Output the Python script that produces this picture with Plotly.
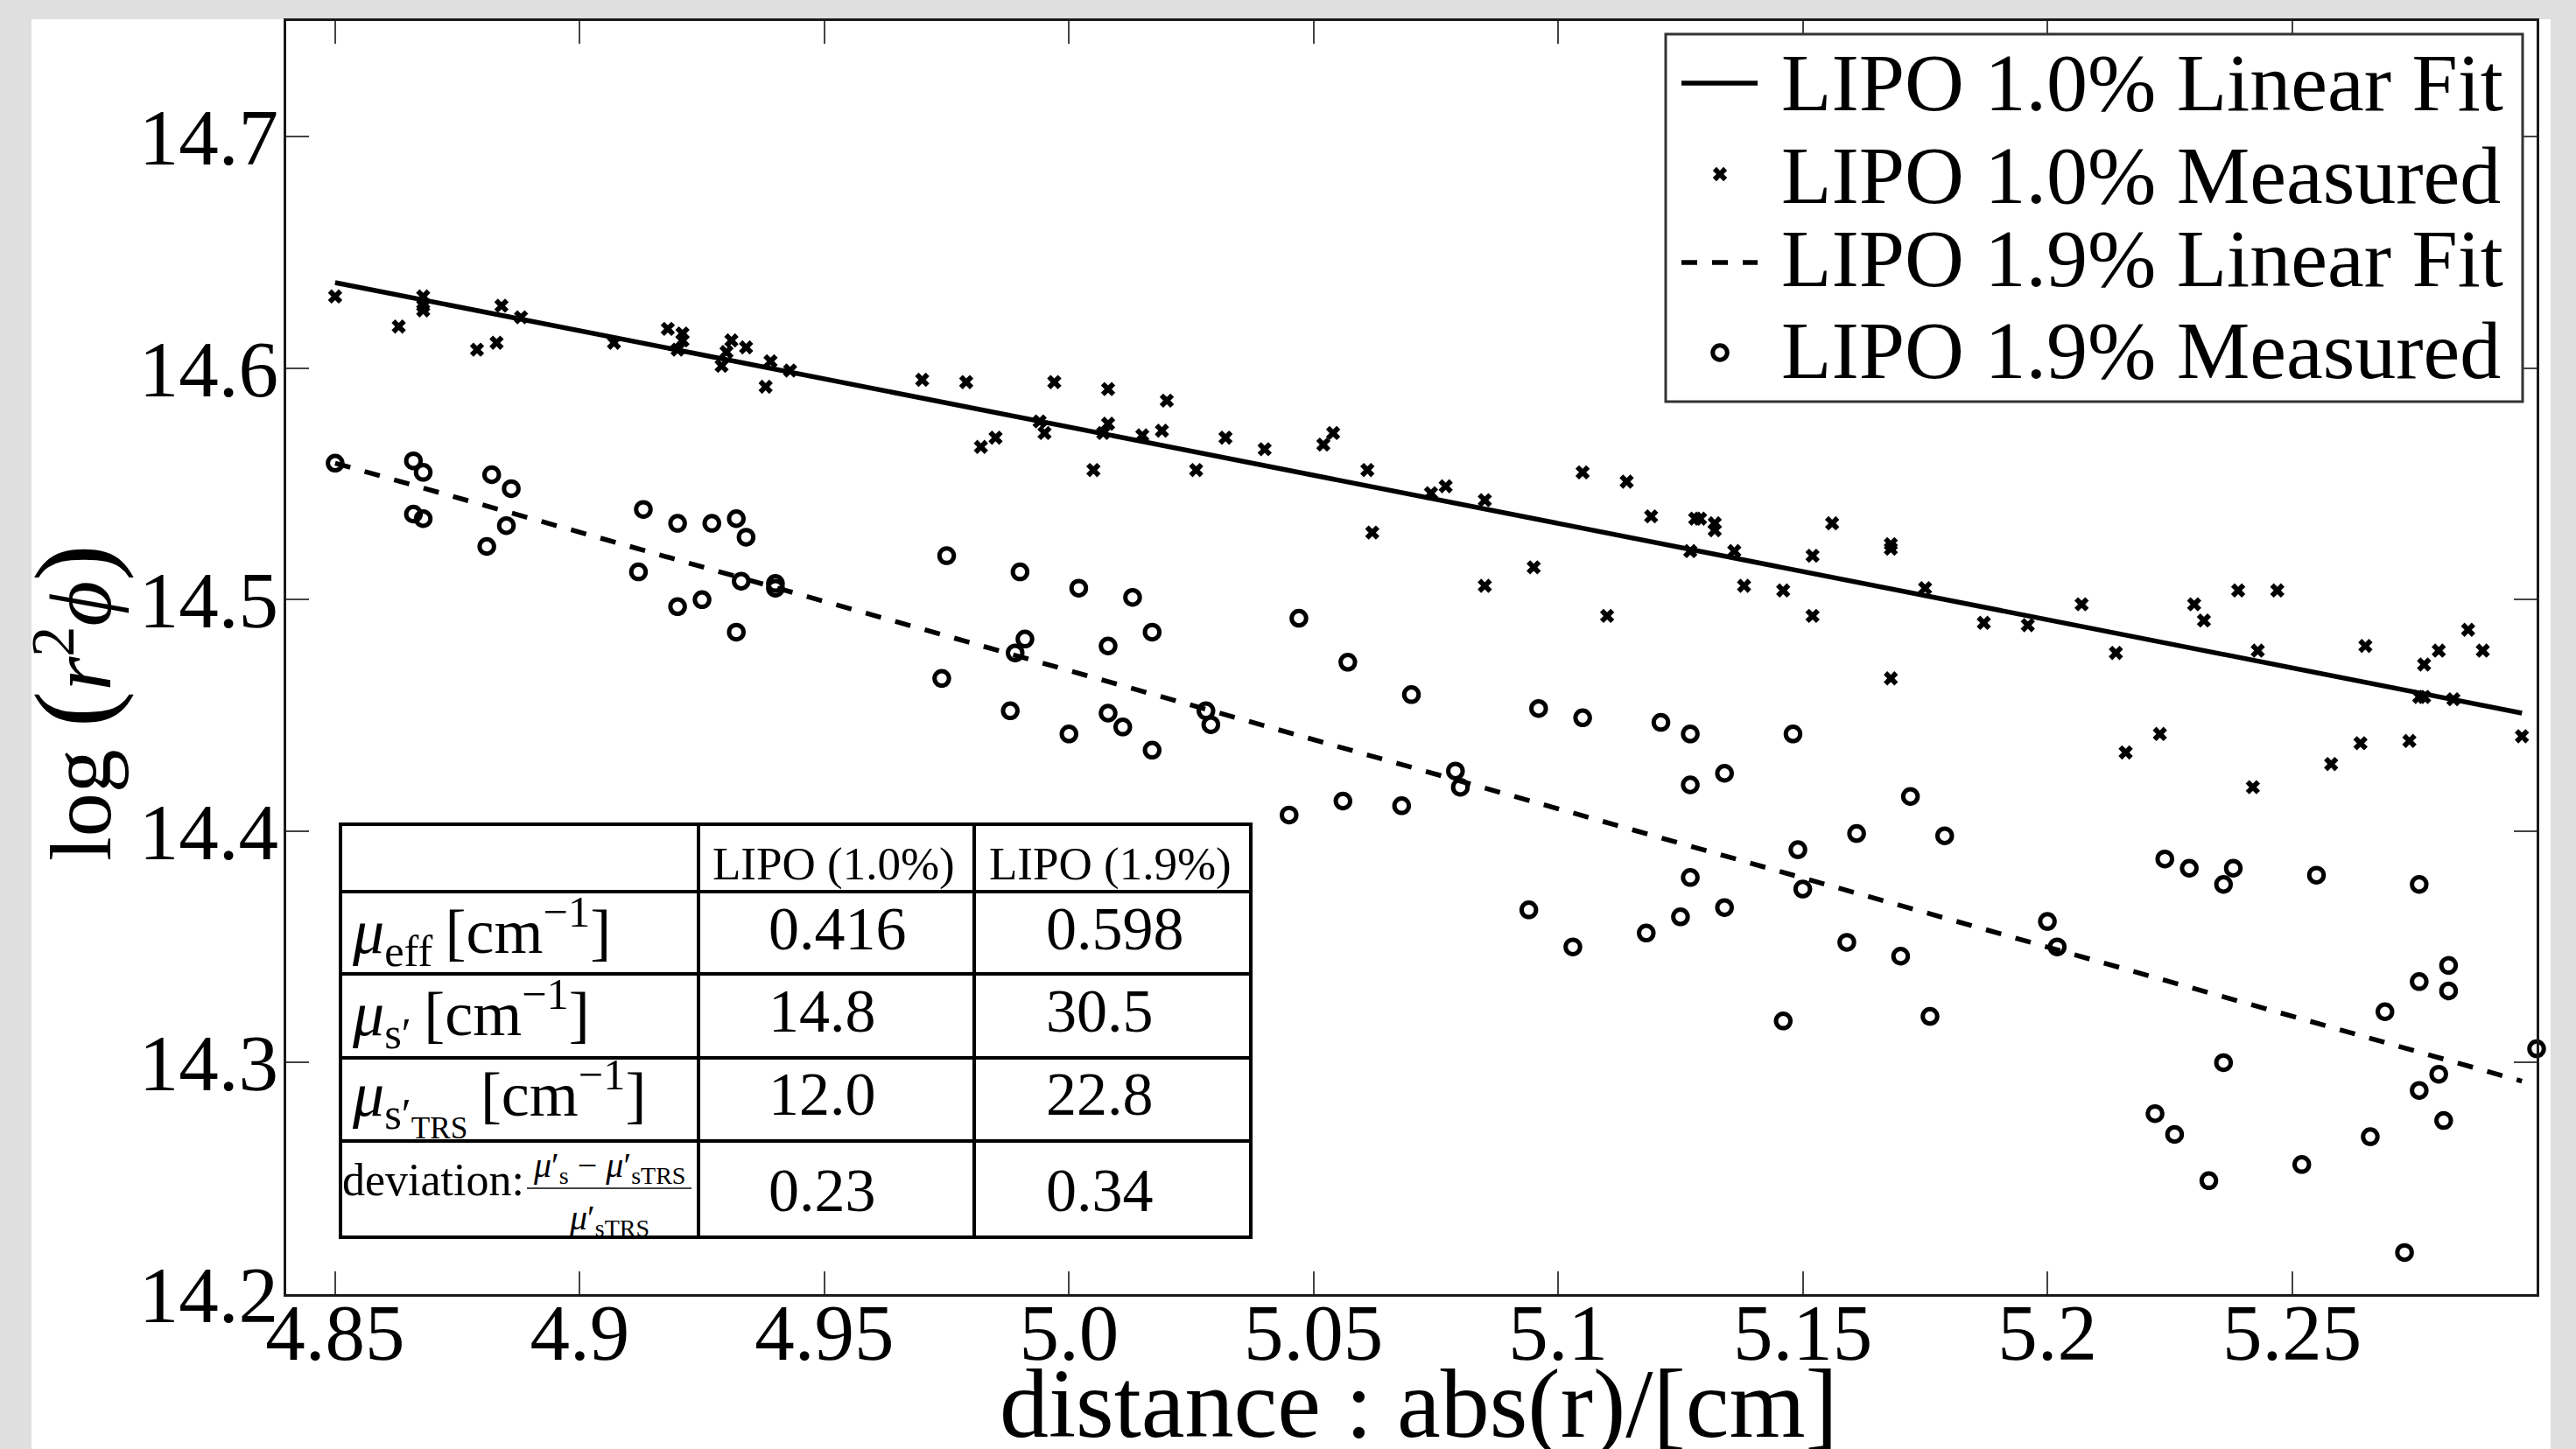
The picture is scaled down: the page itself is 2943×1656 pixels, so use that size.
import plotly.graph_objects as go

# ---------------- data ----------------
x_range = [4.84, 5.30]
y_range = [14.2, 14.75]
x_tickvals = [4.85, 4.90, 4.95, 5.00, 5.05, 5.10, 5.15, 5.20, 5.25]
x_ticktext = ["4.85", "4.9", "4.95", "5.0", "5.05", "5.1", "5.15", "5.2", "5.25"]
y_tickvals = [14.2, 14.3, 14.4, 14.5, 14.6, 14.7]
y_ticktext = ["14.2", "14.3", "14.4", "14.5", "14.6", "14.7"]

series_names = ["LIPO 1.0% Linear Fit", "LIPO 1.0% Measured",
                "LIPO 1.9% Linear Fit", "LIPO 1.9% Measured"]

lipo10_x = [4.850, 4.863, 4.868, 4.868, 4.868, 4.879, 4.883, 4.884, 4.888, 4.907,
            4.918, 4.921, 4.921, 4.920, 4.929, 4.930, 4.931, 4.934, 4.938, 4.939,
            4.943, 4.970, 4.979, 4.982, 4.985, 4.994, 4.995, 4.997, 5.005, 5.007,
            5.008, 5.008, 5.015, 5.019, 5.020, 5.026, 5.032, 5.040, 5.052, 5.054,
            5.061, 5.062, 5.074, 5.077, 5.085, 5.085, 5.095, 5.105, 5.110, 5.114,
            5.119, 5.128, 5.129, 5.132, 5.132, 5.127, 5.136, 5.138, 5.146, 5.152,
            5.152, 5.156, 5.168, 5.168, 5.168, 5.175, 5.187, 5.196, 5.207, 5.214,
            5.216, 5.223, 5.230, 5.232, 5.239, 5.242, 5.243, 5.247, 5.258, 5.264,
            5.265, 5.274, 5.276, 5.277, 5.277, 5.280, 5.283, 5.286, 5.289, 5.297]
lipo10_y = [14.631, 14.618, 14.631, 14.627, 14.625, 14.608, 14.611, 14.627, 14.622, 14.611,
            14.617, 14.615, 14.612, 14.608, 14.601, 14.607, 14.612, 14.609, 14.592, 14.603,
            14.599, 14.595, 14.594, 14.566, 14.570, 14.577, 14.572, 14.594, 14.556, 14.572,
            14.576, 14.591, 14.571, 14.573, 14.586, 14.556, 14.570, 14.565, 14.567, 14.572,
            14.556, 14.529, 14.546, 14.549, 14.543, 14.506, 14.514, 14.555, 14.493, 14.551,
            14.536, 14.535, 14.535, 14.533, 14.530, 14.521, 14.521, 14.506, 14.504, 14.519,
            14.493, 14.533, 14.524, 14.522, 14.466, 14.505, 14.490, 14.489, 14.498, 14.477,
            14.434, 14.442, 14.498, 14.491, 14.504, 14.419, 14.478, 14.504, 14.429, 14.438,
            14.480, 14.439, 14.458, 14.458, 14.472, 14.478, 14.457, 14.487, 14.478, 14.441]

lipo19_x = [4.850, 4.866, 4.868, 4.866, 4.868, 4.882, 4.886, 4.885, 4.881, 4.913,
            4.912, 4.920, 4.927, 4.932, 4.934, 4.920, 4.925, 4.932, 4.933, 4.940,
            4.940, 4.975, 4.990, 5.002, 5.013, 5.017, 5.008, 4.991, 4.989, 4.974,
            4.988, 5.008, 5.011, 5.000, 5.017, 5.028, 5.029, 5.047, 5.057, 5.070,
            5.096, 5.105, 5.121, 5.127, 5.134, 5.127, 5.079, 5.080, 5.056, 5.068,
            5.045, 5.127, 5.094, 5.103, 5.118, 5.125, 5.134, 5.148, 5.172, 5.161,
            5.179, 5.149, 5.150, 5.159, 5.170, 5.200, 5.202, 5.224, 5.229, 5.238,
            5.236, 5.255, 5.276, 5.282, 5.276, 5.282, 5.269, 5.300, 5.280, 5.276,
            5.281, 5.236, 5.222, 5.226, 5.233, 5.252, 5.266, 5.273, 5.146, 5.176]
lipo19_y = [14.559, 14.560, 14.555, 14.537, 14.535, 14.554, 14.548, 14.532, 14.523, 14.539,
            14.512, 14.533, 14.533, 14.535, 14.527, 14.497, 14.500, 14.486, 14.508, 14.507,
            14.505, 14.519, 14.512, 14.505, 14.501, 14.486, 14.480, 14.483, 14.477, 14.466,
            14.452, 14.451, 14.445, 14.442, 14.435, 14.452, 14.446, 14.492, 14.473, 14.459,
            14.453, 14.449, 14.447, 14.442, 14.425, 14.420, 14.426, 14.419, 14.413, 14.411,
            14.407, 14.380, 14.366, 14.350, 14.356, 14.363, 14.367, 14.442, 14.415, 14.399,
            14.398, 14.392, 14.375, 14.352, 14.346, 14.361, 14.350, 14.388, 14.384, 14.384,
            14.377, 14.381, 14.377, 14.342, 14.335, 14.331, 14.322, 14.306, 14.295, 14.288,
            14.275, 14.300, 14.278, 14.269, 14.249, 14.256, 14.268, 14.218, 14.318, 14.320]

fit_x = [4.850, 5.297]
fit10_y = [14.637, 14.451]
fit19_y = [14.559, 14.292]

table_col_labels = ["LIPO (1.0%)", "LIPO (1.9%)"]
table_row_labels = [
    "<i>μ</i><sub>eff</sub>\u2009[cm<sup>−1</sup>]",
    "<i>μ</i><sub>s′</sub>\u2009[cm<sup>−1</sup>]",
    "<i>μ</i><sub>s′<sub>TRS</sub></sub>\u2009[cm<sup>−1</sup>]",
    "deviation:",
]
table_values = [["0.416", "0.598"], ["14.8", "30.5"], ["12.0", "22.8"], ["0.23", "0.34"]]
deviation_num = "<i>μ</i>′<sub>s</sub> − <i>μ</i>′<sub>sTRS</sub>"
deviation_den = "<i>μ</i>′<sub>sTRS</sub>"

x_title = "distance\u00a0:\u00a0abs(r)/[cm]"
y_title = ('log <span style="font-size:125px">(</span><i>r</i><sup>2</sup><i>ϕ</i>'
           '<span style="font-size:125px">)</span>')

# ---------------- geometry (pixels) ----------------
W, H = 2943, 1656
PL, PR, PT, PB = 327, 2898, 24, 1479
PW, PH = PR - PL, PB - PT


def fx(px):
    return (px - PL) / PW


def fy(py):
    return (PB - py) / PH


FONT = "Liberation Serif"
INK = "black"

fig = go.Figure()
fig.add_trace(go.Scatter(x=fit_x, y=fit10_y, mode="lines", name=series_names[0],
                         line=dict(color=INK, width=5.5)))
fig.add_trace(go.Scatter(x=lipo10_x, y=lipo10_y, mode="markers", name=series_names[1],
                         marker=dict(symbol="x", size=14.5, color=INK, line=dict(width=0))))
fig.add_trace(go.Scatter(x=fit_x, y=fit19_y, mode="lines", name=series_names[2],
                         line=dict(color=INK, width=5.5, dash="18px,17px")))
fig.add_trace(go.Scatter(x=lipo19_x, y=lipo19_y, mode="markers", name=series_names[3],
                         cliponaxis=False,
                         marker=dict(symbol="circle-open", size=16.5, color=INK,
                                     line=dict(width=5, color=INK))))

shapes = []
annotations = []

# white canvas on the grey page
shapes.append(dict(type="rect", xref="paper", yref="paper", layer="below",
                   x0=fx(36), x1=fx(2914), y0=fy(1700), y1=fy(22),
                   fillcolor="white", line=dict(width=0)))

# ---------- legend (drawn by hand) ----------
LEG = dict(x0=1903, y0=39, x1=2882, y1=459)
shapes.append(dict(type="rect", xref="paper", yref="paper",
                   x0=fx(LEG["x0"]), x1=fx(LEG["x1"]), y0=fy(LEG["y1"]), y1=fy(LEG["y0"]),
                   fillcolor="white", line=dict(color="#333333", width=3)))
row_sym_y = [95, 199, 300, 403]
row_txt_y = [94, 200, 295, 400]
sx0, sx1, scx = 1921, 2008, 1965
shapes.append(dict(type="line", xref="paper", yref="paper",
                   x0=fx(sx0), x1=fx(sx1), y0=fy(row_sym_y[0]), y1=fy(row_sym_y[0]),
                   line=dict(color=INK, width=5.5)))
shapes.append(dict(type="line", xref="paper", yref="paper",
                   x0=fx(sx0), x1=fx(sx1), y0=fy(row_sym_y[2]), y1=fy(row_sym_y[2]),
                   line=dict(color=INK, width=5.5, dash="18px,17px")))
# x symbol (same outline as plotly's 'x' marker of size 14.5)
rx = 14.5 / 2 * 0.8 / 2 ** 0.5
pts = [(0, rx), (rx, 2 * rx), (2 * rx, rx), (rx, 0), (2 * rx, -rx), (rx, -2 * rx), (0, -rx),
       (-rx, -2 * rx), (-2 * rx, -rx), (-rx, 0), (-2 * rx, rx), (-rx, 2 * rx)]
cy = row_sym_y[1]
path = "M" + " L".join(f"{fx(scx + a):.6f},{fy(cy + b):.6f}" for a, b in pts) + " Z"
shapes.append(dict(type="path", xref="paper", yref="paper", path=path,
                   fillcolor=INK, line=dict(width=0)))
r = 16.5 / 2
cy = row_sym_y[3]
shapes.append(dict(type="circle", xref="paper", yref="paper",
                   x0=fx(scx - r), x1=fx(scx + r), y0=fy(cy + r), y1=fy(cy - r),
                   line=dict(color=INK, width=5)))
for name, ty in zip(series_names, row_txt_y):
    annotations.append(dict(text=name, xref="paper", yref="paper", x=fx(2033), y=fy(ty),
                            xanchor="left", yanchor="middle", showarrow=False,
                            font=dict(family=FONT, size=94, color=INK)))

# ---------- table ----------
TX = [389, 798, 1113, 1429]
TY = [942, 1019, 1113, 1209, 1304, 1414]
shapes.append(dict(type="rect", xref="paper", yref="paper",
                   x0=fx(TX[0]), x1=fx(TX[-1]), y0=fy(TY[-1]), y1=fy(TY[0]),
                   fillcolor="white", line=dict(color=INK, width=4)))
for xv in TX[1:-1]:
    shapes.append(dict(type="line", xref="paper", yref="paper",
                       x0=fx(xv), x1=fx(xv), y0=fy(TY[-1]), y1=fy(TY[0]),
                       line=dict(color=INK, width=4)))
for yv in TY[1:-1]:
    shapes.append(dict(type="line", xref="paper", yref="paper",
                       x0=fx(TX[0]), x1=fx(TX[-1]), y0=fy(yv), y1=fy(yv),
                       line=dict(color=INK, width=4)))
col_text_x = [876, 1193]
head_x = [812, 1128]
for lab, hx in zip(table_col_labels, head_x):
    annotations.append(dict(text=lab, xref="paper", yref="paper", x=fx(hx), y=fy(987),
                            xanchor="left", yanchor="middle", showarrow=False,
                            font=dict(family=FONT, size=53, color=INK)))
val_y = [1061, 1155, 1250, 1360]
for vals, vy in zip(table_values, val_y):
    for v, vx in zip(vals, col_text_x):
        annotations.append(dict(text=v, xref="paper", yref="paper", x=fx(vx), y=fy(vy),
                                xanchor="left", yanchor="middle", showarrow=False,
                                font=dict(family=FONT, size=70, color=INK)))
lab_y = [1064, 1158, 1254, 1348]
lab_x = [400, 400, 400, 389]
lab_size = [72, 72, 72, 52]
for lab, lx, ly, ls in zip(table_row_labels, lab_x, lab_y, lab_size):
    annotations.append(dict(text=lab, xref="paper", yref="paper", x=fx(lx), y=fy(ly),
                            xanchor="left", yanchor="middle", showarrow=False,
                            font=dict(family=FONT, size=ls, color=INK)))
annotations.append(dict(text=deviation_num, xref="paper", yref="paper", x=fx(696), y=fy(1334),
                        xanchor="center", yanchor="middle", showarrow=False,
                        font=dict(family=FONT, size=40, color=INK)))
annotations.append(dict(text=deviation_den, xref="paper", yref="paper", x=fx(696), y=fy(1394),
                        xanchor="center", yanchor="middle", showarrow=False,
                        font=dict(family=FONT, size=40, color=INK)))
shapes.append(dict(type="line", xref="paper", yref="paper",
                   x0=fx(602), x1=fx(790), y0=fy(1358), y1=fy(1358),
                   line=dict(color="#444444", width=2)))

# ---------- axis titles ----------
annotations.append(dict(text=x_title, xref="paper", yref="paper", x=fx(1621), y=fy(1604),
                        xanchor="center", yanchor="middle", showarrow=False,
                        font=dict(family=FONT, size=112, color=INK)))
annotations.append(dict(text=y_title, xref="paper", yref="paper", x=fx(84), y=fy(803),
                        xanchor="center", yanchor="middle", showarrow=False, textangle=-90,
                        font=dict(family=FONT, size=100, color=INK)))

axis_common = dict(showgrid=False, zeroline=False, showline=True, linecolor="#1a1a1a",
                   linewidth=2.5, ticks="inside", ticklen=26, tickwidth=2, tickcolor="#444444",
                   mirror="ticks", automargin=False,
                   tickfont=dict(family=FONT, size=91, color=INK))

fig.update_layout(template="none")
fig.update_xaxes(range=x_range, tickmode="array", tickvals=x_tickvals, ticktext=x_ticktext,
                 ticklabelstandoff=-37, **axis_common)
fig.update_yaxes(range=y_range, tickmode="array", tickvals=y_tickvals, ticktext=y_ticktext,
                 ticklabelstandoff=-12, **axis_common)
fig.update_layout(width=W, height=H, showlegend=False,
                  margin=dict(l=PL, r=W - PR, t=PT, b=H - PB, pad=0),
                  paper_bgcolor="#dfdfdf", plot_bgcolor="white",
                  shapes=shapes, annotations=annotations)

fig.write_html("out.html", config={"displayModeBar": False},
               post_script="document.body.style.margin='0';"
                           "document.body.style.background='#dfdfdf';")
